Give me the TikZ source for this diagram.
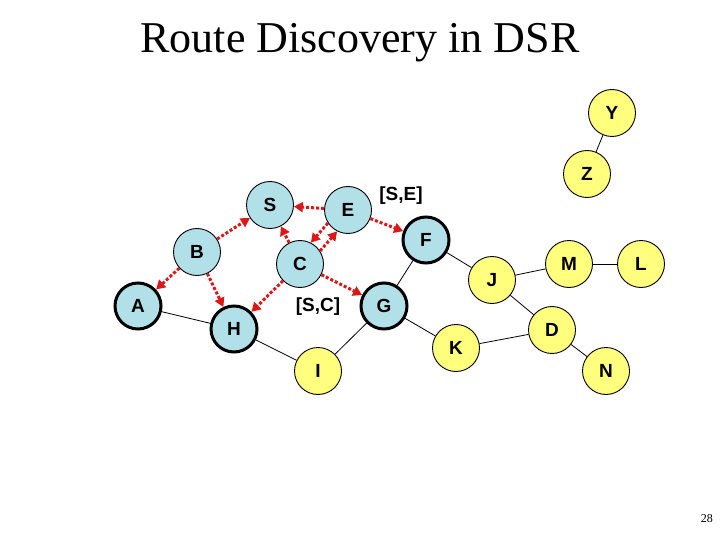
\documentclass[tikz,border=0pt]{standalone}
\usepackage{fontspec}
\setmainfont{Liberation Serif}
\setsansfont{Liberation Sans}
\usetikzlibrary{arrows.meta}
\definecolor{nodeblue}{RGB}{178,224,232}
\definecolor{nodeyellow}{RGB}{255,255,125}
\definecolor{routered}{RGB}{222,22,22}
\tikzset{
  nd/.style={circle, draw=black, line width=0.9pt, minimum size=47pt, inner sep=0pt,
    font=\sffamily\bfseries\fontsize{19}{19}\selectfont},
  bluenode/.style={nd, fill=nodeblue},
  yellownode/.style={nd, fill=nodeyellow},
  thicknode/.style={line width=3pt, minimum size=46pt},
  link/.style={draw=black, line width=0.8pt},
  rreq/.style={draw=routered, line width=3pt, dash pattern=on 3pt off 2pt,
    -{Triangle[length=9pt,width=10pt,fill=routered]}},
  lbl/.style={font=\sffamily\bfseries\fontsize{19}{19}\selectfont, inner sep=0pt}
}
\begin{document}
\begin{tikzpicture}[x=1pt,y=-1pt]
\useasboundingbox (0,0) rectangle (720,540);
\node[anchor=base, font=\fontsize{44}{44}\selectfont, inner sep=0pt] (title) at (360,53) {Route Discovery in DSR};
\node[anchor=base east, font=\fontsize{12}{12}\selectfont, inner sep=0pt] (pg) at (713,522) {28};

% blue nodes
\node[bluenode] (S) at (270,205) {S};
\node[bluenode] (E) at (348,210) {E};
\node[bluenode] (B) at (197,252) {B};
\node[bluenode] (C) at (300,264) {C};
\node[bluenode,thicknode] (F) at (426,240) {F};
\node[bluenode,thicknode] (G) at (384,306) {G};
\node[bluenode,thicknode] (H) at (234,329) {H};
\node[bluenode,thicknode] (A) at (138,306) {A};
% yellow nodes
\node[yellownode] (Y) at (612,113) {Y};
\node[yellownode] (Z) at (587,174) {Z};
\node[yellownode] (J) at (492,280) {J};
\node[yellownode] (M) at (569,264) {M};
\node[yellownode] (L) at (641,264) {L};
\node[yellownode] (I) at (318,371) {I};
\node[yellownode] (K) at (456,348) {K};
\node[yellownode] (D) at (552,330) {D};
\node[yellownode] (N) at (606,371) {N};

% labels
\node[lbl] (lSE) at (401,196) {[S,E]};
\node[lbl] (lSC) at (318,307) {[S,C]};

% links
\draw[link] (A) -- (H);
\draw[link] (H) -- (I);
\draw[link] (I) -- (G);
\draw[link] (G) -- (F);
\draw[link] (G) -- (K);
\draw[link] (F) -- (J);
\draw[link] (J) -- (M);
\draw[link] (M) -- (L);
\draw[link] (J) -- (D);
\draw[link] (K) -- (D);
\draw[link] (D) -- (N);
\draw[link] (Y) -- (Z);

% route request propagation
\draw[rreq] (E) -- (S);
\draw[rreq] (B) -- (S);
\draw[rreq] (C) -- (S);
\draw[rreq] (E.213) -- (C.63);
\draw[rreq] (C.33) -- (E.243);
\draw[rreq] (E) -- (F);
\draw[rreq] (C) -- (G);
\draw[rreq] (C) -- (H);
\draw[rreq] (B) -- (A);
\draw[rreq] (B) -- (H);
\end{tikzpicture}
\end{document}
